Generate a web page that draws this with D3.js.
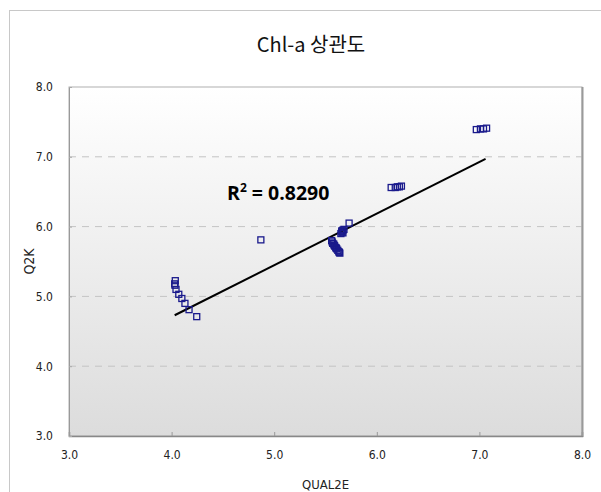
<!DOCTYPE html>
<html>
<head>
<meta charset="utf-8">
<script src="https://cdn.jsdelivr.net/npm/d3@7/dist/d3.min.js"></script>
<style>
  body { margin: 0; background: #fff; }
  svg { display: block; }
</style>
</head>
<body>
<svg id="chart"></svg>
<script>
// values
const qual2e = [4.036, 4.03, 4.033, 4.043, 4.07, 4.10, 4.13, 4.17, 4.245,
  4.87,
  5.56, 5.565, 5.57, 5.58, 5.585, 5.59, 5.60, 5.605, 5.61, 5.62, 5.63, 5.635, 5.64,
  5.65, 5.66, 5.66, 5.67, 5.68, 5.67, 5.66, 5.73,
  6.14, 6.18, 6.20, 6.22, 6.24,
  6.97, 7.01, 7.04, 7.07];
const q2k = [5.225, 5.18, 5.16, 5.10, 5.03, 4.97, 4.90, 4.81, 4.71,
  5.81,
  5.80, 5.78, 5.76, 5.75, 5.73, 5.72, 5.70, 5.69, 5.68, 5.66, 5.64, 5.63, 5.62,
  5.90, 5.92, 5.94, 5.95, 5.96, 5.91, 5.93, 6.05,
  6.56, 6.56, 6.57, 6.57, 6.58,
  7.39, 7.40, 7.40, 7.41];
const trendX = [4.03, 7.06];
const trendY = [4.73, 6.97];
const ticks = [3, 4, 5, 6, 7, 8];
const rSquared = "0.8290";

const width = 601, height = 492;
const margin = { top: 87, right: 19, bottom: 56, left: 69 };
const plotW = width - margin.left - margin.right;
const plotH = height - margin.top - margin.bottom;
const labelFont = "'DejaVu Sans Condensed', 'Liberation Sans Narrow', 'Noto Sans', sans-serif";

const svg = d3.select("#chart")
    .attr("width", width)
    .attr("height", height);

// outer chart area border
svg.append("rect")
    .attr("x", 9.5).attr("y", 10.5)
    .attr("width", 700).attr("height", 600)
    .attr("fill", "#fff")
    .attr("stroke", "#c8c8c8");

svg.append("text")
    .attr("x", 311)
    .attr("y", 52)
    .attr("text-anchor", "middle")
    .style("font-family", "'Noto Sans CJK KR', sans-serif")
    .style("font-size", "20px")
    .attr("fill", "#111")
    .text("Chl-a 상관도");

const defs = svg.append("defs");
const grad = defs.append("linearGradient")
    .attr("id", "plot-bg")
    .attr("x1", "0%").attr("y1", "0%")
    .attr("x2", "0%").attr("y2", "100%");
grad.append("stop").attr("offset", "0%").attr("stop-color", "#ffffff");
grad.append("stop").attr("offset", "100%").attr("stop-color", "#dcdcdc");

const g = svg.append("g")
    .attr("transform", `translate(${margin.left},${margin.top})`);

const x = d3.scaleLinear().domain([3, 8]).range([0, plotW]);
const y = d3.scaleLinear().domain([3, 8]).range([plotH, 0]);

g.append("rect")
    .attr("width", plotW)
    .attr("height", plotH)
    .attr("fill", "url(#plot-bg)")
    .attr("stroke", "#b0b0b0");

// dashed gridlines
g.selectAll(".grid")
    .data(ticks.filter(t => t > 3 && t < 8))
    .enter().append("line")
    .attr("class", "grid")
    .attr("x1", 0).attr("x2", plotW)
    .attr("y1", d => y(d)).attr("y2", d => y(d))
    .attr("stroke", "#c4c4c4")
    .attr("stroke-dasharray", "7,6");

// right edge shadow
g.append("line")
    .attr("x1", plotW + 0.5).attr("x2", plotW + 0.5)
    .attr("y1", 0).attr("y2", plotH + 1)
    .attr("stroke", "#9a9a9a")
    .attr("stroke-width", 2);

// x axis with inward ticks
const xAxis = g.append("g")
    .attr("transform", `translate(0,${plotH})`)
    .call(d3.axisBottom(x).tickValues(ticks).tickSize(-4).tickPadding(14).tickFormat(d3.format(".1f")));
xAxis.select(".domain").attr("stroke", "#888").attr("stroke-width", 1.5);
xAxis.selectAll(".tick line").attr("stroke", "#999");
xAxis.selectAll("text")
    .style("font-family", labelFont)
    .style("font-size", "12px")
    .attr("fill", "#222");

const yAxis = g.append("g")
    .call(d3.axisLeft(y).tickValues(ticks).tickSize(-3).tickPadding(16).tickFormat(d3.format(".1f")));
yAxis.select(".domain").attr("stroke", "#999");
yAxis.selectAll(".tick line").attr("stroke", "#aaa");
yAxis.selectAll("text")
    .style("font-family", labelFont)
    .style("font-size", "12px")
    .attr("fill", "#222");

// trend line
g.append("line")
    .attr("x1", x(trendX[0])).attr("y1", y(trendY[0]))
    .attr("x2", x(trendX[1])).attr("y2", y(trendY[1]))
    .attr("stroke", "#000")
    .attr("stroke-width", 2);

// points
const pts = qual2e.map((v, i) => ({ x: v, y: q2k[i] }));
g.selectAll(".pt")
    .data(pts)
    .enter().append("rect")
    .attr("class", "pt")
    .attr("x", d => x(d.x) - 3)
    .attr("y", d => y(d.y) - 3)
    .attr("width", 6)
    .attr("height", 6)
    .attr("fill", "none")
    .attr("stroke", "#1a1a8c")
    .attr("stroke-width", 1.3);

// R² label
const r2 = svg.append("text")
    .attr("x", 227)
    .attr("y", 200)
    .style("font-family", "'Open Sans', 'Noto Sans', sans-serif")
    .style("font-weight", "bold")
    .style("font-size", "19.5px")
    .attr("fill", "#000");
r2.append("tspan").text("R");
r2.append("tspan").attr("dy", -8).style("font-size", "12px").text("2");
r2.append("tspan").attr("dy", 8).text(" = " + rSquared);

svg.append("text")
    .attr("x", margin.left + plotW / 2)
    .attr("y", 489)
    .attr("text-anchor", "middle")
    .style("font-family", labelFont)
    .style("font-size", "13px")
    .attr("fill", "#222")
    .text("QUAL2E");

svg.append("text")
    .attr("transform", `translate(34,${margin.top + plotH / 2}) rotate(-90)`)
    .attr("text-anchor", "middle")
    .style("font-family", labelFont)
    .style("font-size", "14px")
    .attr("fill", "#222")
    .text("Q2K");
</script>
</body>
</html>
